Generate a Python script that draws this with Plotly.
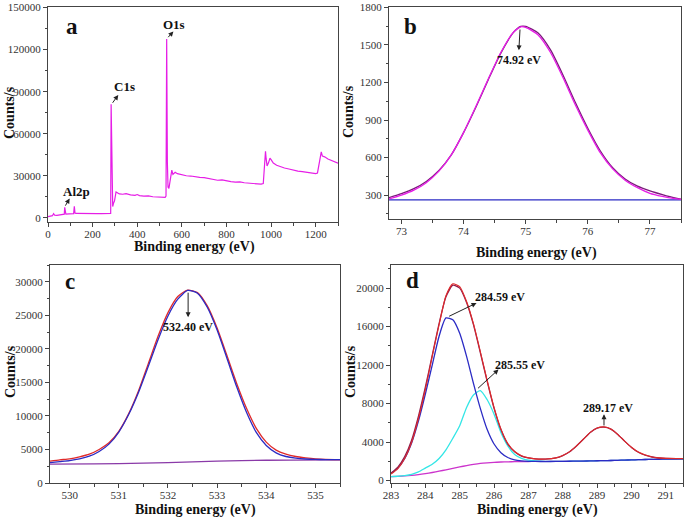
import plotly.graph_objects as go
from plotly.subplots import make_subplots

W, H = 685, 517
SERIF = "Liberation Serif"

# (a) survey spectrum
survey_e = [0, 10, 20, 25, 30, 40, 55, 70, 73, 75, 77, 80, 95, 110, 115, 118, 121, 125,
            140, 160, 180, 200, 220, 240, 260, 278, 281, 283, 285, 287, 290, 294, 298,
            305, 312, 320, 335, 350, 370, 390, 400, 410, 430, 450, 470, 490, 510, 525,
            529, 532, 535, 538, 542, 548, 555, 560, 570, 580, 600, 620, 640, 660, 680,
            700, 720, 740, 760, 780, 800, 820, 840, 860, 880, 900, 920, 940, 955, 965,
            970, 975, 978, 982, 988, 995, 1000, 1010, 1025, 1040, 1060, 1080, 1100,
            1120, 1140, 1160, 1180, 1200, 1208, 1214, 1220, 1225, 1230, 1240, 1255,
            1270, 1285, 1300]
survey_counts = [800, 1200, 1500, 3000, 1800, 1700, 2000, 2300, 2600, 7500, 2900, 2700,
                 2800, 2900, 3000, 8200, 3300, 3100, 3000, 3100, 2900, 3000, 2950, 3000,
                 2950, 3000, 3200, 81000, 50000, 15000, 8000, 10500, 12000, 18500, 17500,
                 17000, 16800, 17200, 16300, 16000, 16600, 15800, 15500, 15600, 15000,
                 14800, 14300, 14600, 15500, 127500, 40000, 22000, 21000, 26000, 34000,
                 31000, 32500, 31500, 30500, 30000, 29800, 29200, 28800, 28600, 28000,
                 27500, 26800, 27000, 26200, 25800, 25500, 25600, 25000, 24800, 24300,
                 24200, 24000, 24500, 35000, 47500, 42000, 37000, 39000, 42500, 41500,
                 39000, 37500, 36500, 35500, 34800, 34000, 33300, 33000, 32500, 32200,
                 31500, 32000, 37000, 44000, 47000, 44000, 43500, 42000, 41000, 40000,
                 39000]

# (b) Al2p
al_e = [72.8, 73.0, 73.2, 73.4, 73.6, 73.8, 74.0, 74.2, 74.4, 74.6, 74.8, 74.92, 75.0,
        75.2, 75.4, 75.6, 75.8, 76.0, 76.2, 76.4, 76.6, 76.8, 77.0, 77.2, 77.4, 77.5]
al_fit = [270, 300, 340, 400, 490, 620, 800, 1010, 1230, 1440, 1600, 1645, 1640, 1580,
          1440, 1240, 1020, 820, 640, 510, 420, 360, 315, 290, 272, 266]
al_data = [280, 312, 352, 410, 495, 620, 800, 1005, 1225, 1435, 1598, 1648, 1648, 1595,
           1460, 1260, 1040, 835, 655, 520, 430, 372, 335, 305, 278, 268]
al_base = [262] * len(al_e)

# (c) O1s
o_e = [529.6, 529.8, 530.0, 530.2, 530.4, 530.6, 530.8, 531.0, 531.2, 531.4, 531.6,
       531.8, 532.0, 532.2, 532.4, 532.6, 532.8, 533.0, 533.2, 533.4, 533.6, 533.8,
       534.0, 534.2, 534.4, 534.6, 534.8, 535.0, 535.2, 535.5]
o_fit = [3050, 3200, 3350, 3600, 4000, 4700, 5800, 7600, 10200, 13500, 17400, 21400,
         24900, 27400, 28700, 28300, 26200, 22800, 18600, 14300, 10500, 7500, 5600,
         4500, 3950, 3700, 3580, 3520, 3490, 3470]
o_data = [3250, 3450, 3600, 3900, 4300, 5000, 6000, 7700, 10300, 13700, 17800, 21900,
          25400, 27800, 28750, 28400, 26400, 23100, 19000, 14800, 11100, 8100, 6100,
          4900, 4300, 3950, 3750, 3600, 3520, 3480]
o_base_e = [529.6, 530.5, 531.5, 532.5, 533.5, 534.5, 535.5]
o_base = [2800, 2850, 2950, 3150, 3350, 3420, 3450]

# (d) C1s
c_e = [283.0, 283.2, 283.4, 283.6, 283.8, 284.0, 284.2, 284.4, 284.6, 284.8, 285.0,
       285.2, 285.4, 285.6, 285.8, 286.0, 286.2, 286.4, 286.6, 286.8, 287.0, 287.2,
       287.5, 287.8, 288.0, 288.2, 288.4, 288.6, 288.8, 289.0, 289.2, 289.4, 289.6,
       289.8, 290.0, 290.2, 290.4, 290.6, 290.8, 291.0, 291.5]
c_data = [780, 1400, 2500, 4200, 6700, 9700, 13000, 16300, 19100, 20300, 20000, 18500,
          16200, 13300, 10300, 7500, 5300, 3800, 3000, 2550, 2350, 2250, 2230, 2350,
          2600, 3000, 3600, 4300, 5000, 5450, 5550, 5350, 4800, 4100, 3450, 2950, 2650,
          2450, 2350, 2300, 2280]
c_fit = [680, 1250, 2300, 3950, 6450, 9450, 12900, 16200, 19200, 20450, 20150, 18600,
         16300, 13400, 10400, 7600, 5350, 3850, 3020, 2570, 2360, 2260, 2240, 2360,
         2610, 3010, 3610, 4310, 5010, 5460, 5580, 5360, 4810, 4110, 3460, 2960, 2660,
         2460, 2360, 2310, 2290]
c_comp1 = [750, 1300, 2300, 3900, 6200, 9000, 12000, 15000, 16900, 16700, 15300, 12900,
           10100, 7500, 5300, 3800, 2900, 2400, 2150, 2050, 2000, 1990, 1980, 1990,
           2000, 2010, 2020, 2030, 2040, 2060, 2070, 2090, 2110, 2130, 2150, 2170, 2190,
           2200, 2220, 2240, 2260]
c_comp2 = [420, 450, 520, 650, 900, 1300, 1700, 2300, 3200, 4400, 5700, 7600, 8900, 9350,
           8400, 6900, 5000, 3600, 2700, 2300, 2120, 2050, 2000, 1990, 2000, 2010, 2020,
           2030, 2040, 2060, 2070, 2090, 2110, 2130, 2150, 2170, 2190, 2200, 2220, 2240,
           2260]
c_bg = [410, 440, 480, 540, 620, 720, 840, 980, 1120, 1270, 1420, 1560, 1680, 1780,
        1850, 1900, 1930, 1950, 1965, 1975, 1985, 1990, 1995, 2000, 2005, 2015, 2025,
        2035, 2045, 2060, 2075, 2090, 2110, 2130, 2150, 2170, 2190, 2200, 2220, 2240,
        2260]

MAGENTA = "#e61ee6"
PURPLE = "#7b1a7b"
BLUE = "#2b2bc4"
RED = "#e02a2a"
DARKRED = "#8e1c4c"
CYAN = "#33e6e6"
BGMAG = "#cc33cc"

fig = make_subplots(rows=2, cols=2)

def line(x, y, color, width=1.3):
    return go.Scatter(x=x, y=y, mode="lines",
                      line=dict(color=color, width=width, shape="spline", smoothing=0.6),
                      hoverinfo="skip", showlegend=False)

fig.add_trace(go.Scatter(x=survey_e, y=survey_counts, mode="lines",
                         line=dict(color=MAGENTA, width=1.2), showlegend=False), row=1, col=1)

fig.add_trace(line(al_e, al_base, BLUE), row=1, col=2)
fig.add_trace(line(al_e, al_data, PURPLE), row=1, col=2)
fig.add_trace(line(al_e, al_fit, MAGENTA), row=1, col=2)

fig.add_trace(line(o_base_e, o_base, "#8a3aa8"), row=2, col=1)
fig.add_trace(line(o_e, o_data, RED), row=2, col=1)
fig.add_trace(line(o_e, o_fit, BLUE), row=2, col=1)

fig.add_trace(line(c_e, c_bg, BGMAG), row=2, col=2)
fig.add_trace(line(c_e, c_comp2, CYAN), row=2, col=2)
fig.add_trace(line(c_e, c_comp1, BLUE), row=2, col=2)
fig.add_trace(line(c_e, c_data, DARKRED), row=2, col=2)
fig.add_trace(line(c_e, c_fit, RED, 1.1), row=2, col=2)

def px_x(p):
    return p / W

def px_y(p):
    return 1 - p / H

axis_style = dict(showline=True, linecolor="#444", linewidth=1, mirror=True,
                  ticks="outside", ticklen=4, tickcolor="#444", showgrid=False,
                  zeroline=False, automargin=False, ticklabeloverflow="allow",
                  tickfont=dict(family=SERIF, size=11, color="#333"),
                  minor=dict(ticks="outside", ticklen=2.5, tickcolor="#444"))

fig.update_xaxes(**axis_style, ticklabelstandoff=-2)
fig.update_yaxes(**axis_style)

# domains in pixels
fig.update_xaxes(domain=[px_x(48), px_x(338)], range=[0, 1300], dtick=200,
                 minor_dtick=100, row=1, col=1)
fig.update_yaxes(domain=[px_y(222), px_y(7)], range=[-3000, 150400], dtick=30000,
                 minor_dtick=15000, tickformat="d", row=1, col=1)
fig.update_xaxes(domain=[px_x(389), px_x(681)], range=[72.8, 77.5], dtick=1,
                 minor_dtick=0.5, row=1, col=2)
fig.update_yaxes(domain=[px_y(219), px_y(7)], range=[110, 1803], tick0=0, dtick=300,
                 minor_dtick=150, row=1, col=2)
fig.update_xaxes(domain=[px_x(50), px_x(340)], range=[529.6, 535.5], dtick=1,
                 minor_dtick=0.5, row=2, col=1)
fig.update_yaxes(domain=[px_y(483), px_y(265)], range=[0, 32500], dtick=5000,
                 minor_dtick=2500, tickformat="d", row=2, col=1)
fig.update_xaxes(domain=[px_x(391), px_x(683)], range=[283, 291.5], dtick=1,
                 minor_dtick=0.5, row=2, col=2)
fig.update_yaxes(domain=[px_y(483), px_y(265)], range=[-250, 22400], dtick=4000,
                 minor_dtick=2000, tickformat="d", row=2, col=2)

ann = []

def paper_text(text, x, y, size, angle=0):
    ann.append(dict(text=text, xref="paper", yref="paper", x=px_x(x), y=px_y(y),
                    xanchor="center", yanchor="middle", showarrow=False, textangle=angle,
                    font=dict(family=SERIF, size=size, color="#111")))

# axis titles
for x, y in [(194, 247), (536, 253), (195, 510), (537, 510)]:
    paper_text("<b>Binding energy (eV)</b>", x, y, 14)
for x, y in [(9, 113), (349, 112), (10, 372), (350, 372)]:
    paper_text("<b>Counts/s</b>", x, y, 14, angle=-90)

# panel letters
for t, x, y in [("a", 72, 26), ("b", 410, 26), ("c", 70, 281), ("d", 412, 280)]:
    paper_text(f"<b>{t}</b>", x, y, 23)

def label(text, xr, yr, x, y, size=12):
    ann.append(dict(text=f"<b>{text}</b>", xref=xr, yref=yr, x=x, y=y, showarrow=False,
                    xanchor="center", yanchor="middle",
                    font=dict(family=SERIF, size=size, color="#111")))

def arrow(xr, yr, x0, y0, x1, y1):
    ann.append(dict(text="", xref=xr, yref=yr, axref=xr, ayref=yr, x=x1, y=y1,
                    ax=x0, ay=y0, showarrow=True, arrowhead=2, arrowsize=1,
                    arrowwidth=1, arrowcolor="#222"))

label("C1s", "x", "y", 342, 93400, 13)
arrow("x", "y", 285, 81000, 315, 87700)
label("O1s", "x", "y", 566, 138000, 13)
arrow("x", "y", 533, 127800, 562, 133000)
label("Al2p", "x", "y", 127, 18600, 13)
arrow("x", "y", 74, 7600, 97, 13800)

label("74.92 eV", "x2", "y2", 74.89, 1377)
arrow("x2", "y2", 74.91, 1635, 74.89, 1457)

label("532.40 eV", "x3", "y3", 532.41, 23300)
arrow("x3", "y3", 532.41, 28600, 532.41, 24700)

label("284.59 eV", "x4", "y4", 286.16, 19070)
arrow("x4", "y4", 284.65, 17000, 285.49, 18450)
label("285.55 eV", "x4", "y4", 286.76, 12060)
arrow("x4", "y4", 285.49, 9450, 286.13, 11550)
label("289.17 eV", "x4", "y4", 289.32, 7530)
arrow("x4", "y4", 289.2, 5570, 289.2, 6900)

fig.update_layout(template="none", width=W, height=H, margin=dict(l=0, r=0, t=0, b=0),
                  plot_bgcolor="white", paper_bgcolor="white",
                  font=dict(family=SERIF, color="#333"), showlegend=False, annotations=ann)

# page body has a default 8px margin; drop it so the figure fills the window
fig.write_html("out.html", config={"displayModeBar": False},
               post_script="document.body.style.margin='0';")
